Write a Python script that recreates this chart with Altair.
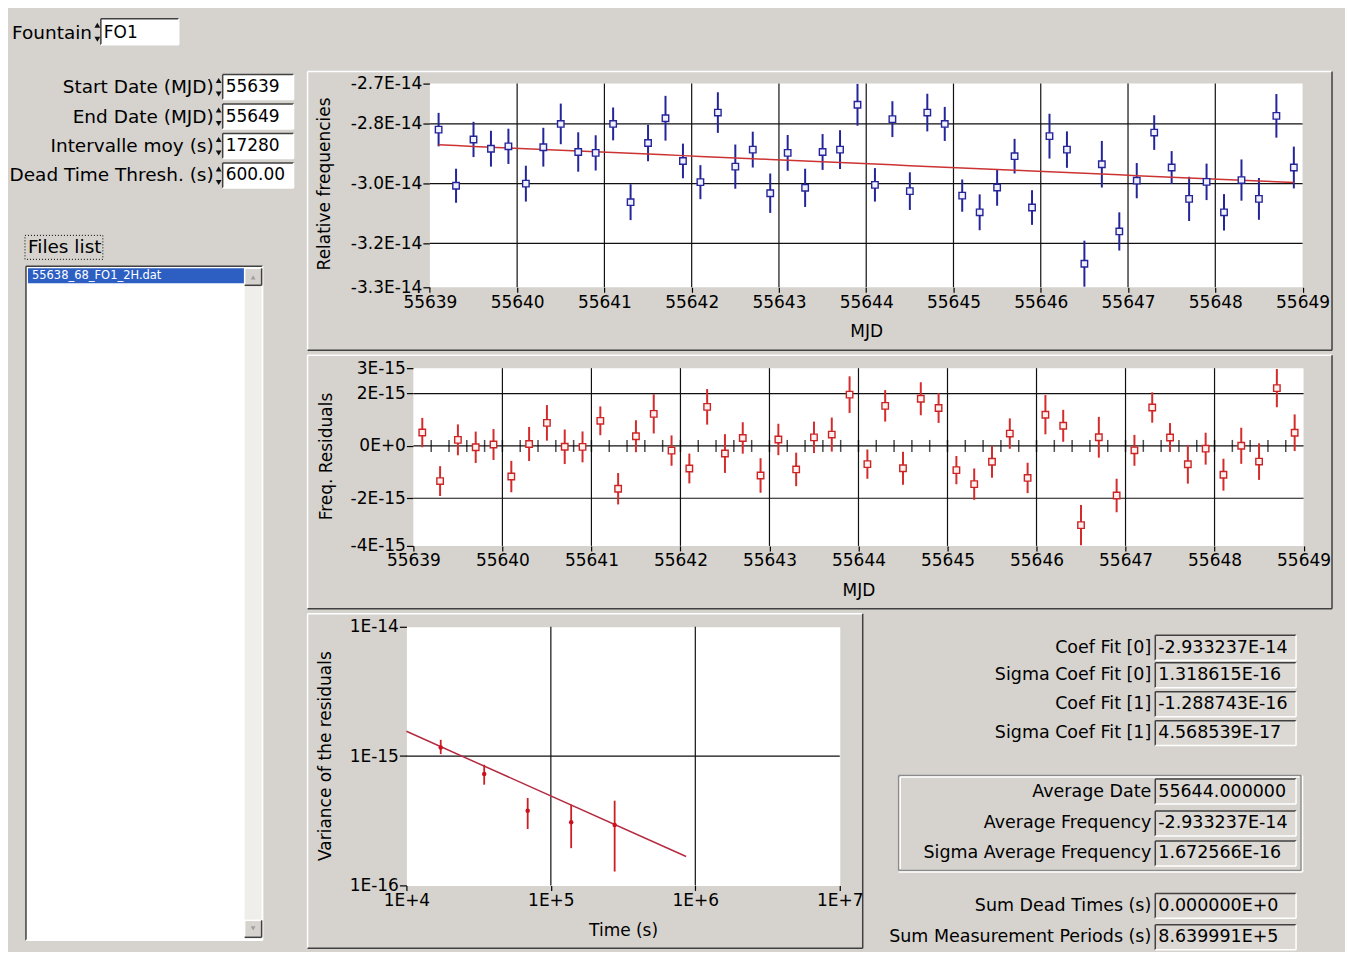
import altair as alt
import pandas as pd

FONT = "DejaVu Sans"
BG = "#d6d3ce"
DARK = "#404040"
LIGHT = "#ffffff"
MID = "#8a8a8a"
NAVY = "#25259a"
RED = "#cc2424"

# ------------------------------------------------------------------ data
MJD = [55639.1, 55639.3, 55639.5, 55639.7, 55639.9,
       55640.1, 55640.3, 55640.5, 55640.7, 55640.9,
       55641.1, 55641.3, 55641.5, 55641.7, 55641.9,
       55642.1, 55642.3, 55642.5, 55642.7, 55642.9,
       55643.1, 55643.3, 55643.5, 55643.7, 55643.9,
       55644.1, 55644.3, 55644.5, 55644.7, 55644.9,
       55645.1, 55645.3, 55645.5, 55645.7, 55645.9,
       55646.1, 55646.3, 55646.5, 55646.7, 55646.9,
       55647.1, 55647.3, 55647.5, 55647.7, 55647.9,
       55648.1, 55648.3, 55648.5, 55648.7, 55648.9]
FREQ_E14 = [-2.819, -3.007, -2.852, -2.883, -2.875, -3.000, -2.878, -2.800, -2.894, -2.897,
            -2.800, -3.062, -2.864, -2.781, -2.924, -2.995, -2.762, -2.943, -2.886, -3.032,
            -2.897, -3.014, -2.894, -2.886, -2.736, -3.004, -2.784, -3.025, -2.762, -2.800,
            -3.040, -3.096, -3.013, -2.908, -3.080, -2.841, -2.886, -3.268, -2.935, -3.160,
            -2.990, -2.829, -2.946, -3.051, -2.994, -3.096, -2.988, -3.051, -2.773, -2.946]
ERR_E14 = [0.056, 0.057, 0.059, 0.060, 0.059, 0.060, 0.065, 0.068, 0.066, 0.059,
           0.055, 0.060, 0.061, 0.075, 0.058, 0.057, 0.068, 0.074, 0.060, 0.066,
           0.060, 0.064, 0.060, 0.065, 0.070, 0.056, 0.060, 0.063, 0.063, 0.057,
           0.054, 0.060, 0.061, 0.058, 0.058, 0.075, 0.061, 0.077, 0.078, 0.064,
           0.059, 0.058, 0.055, 0.074, 0.061, 0.061, 0.069, 0.070, 0.073, 0.070]
COEF_FIT = [-2.933237e-14, -1.288743e-16]
AVG_DATE = 55644.0

TAU_S = [17280, 34560, 69120, 138240, 276480]
ADEV = [1.167e-15, 7.26e-16, 3.78e-16, 3.08e-16, 2.93e-16]
ADEV_LO = [1.036e-15, 6.01e-16, 2.73e-16, 1.94e-16, 1.28e-16]
ADEV_HI = [1.336e-15, 8.57e-16, 4.74e-16, 4.21e-16, 4.52e-16]
FIT_TAU = [1e4, 8.639991e5]
FIT_ADEV = [1.5547e-15, 1.672566e-16]

# axes
MJD_TICKS = [55639, 55640, 55641, 55642, 55643, 55644, 55645, 55646, 55647, 55648, 55649]
MJD_GRID = [55640, 55641, 55642, 55643, 55644, 55645, 55646, 55647, 55648]
FREQ_DOMAIN = [-3.347e-14, -2.665e-14]
FREQ_TICKS = [-3.347e-14, -3.2e-14, -3.0e-14, -2.8e-14, -2.665e-14]
FREQ_GRID = [-3.2e-14, -3.0e-14, -2.8e-14]
RES_DOMAIN = [-3.82e-15, 2.971e-15]
RES_TICKS = [-3.82e-15, -2e-15, 0.0, 2e-15, 2.971e-15]
RES_GRID = [-2e-15, 0.0, 2e-15]
TAU_TICKS = [1e4, 1e5, 1e6, 1e7]
TAU_GRID = [1e5, 1e6]
ADEV_TICKS = [1e-16, 1e-15, 1e-14]
ADEV_GRID = [1e-15]

# interface texts
CTRL_LABELS = ["Start Date (MJD)", "End Date (MJD)", "Intervalle moy (s)", "Dead Time Thresh. (s)"]
CTRL_VALUES = ["55639", "55649", "17280", "600.00"]
FOUNTAIN = "FO1"
FILE_ITEM = "55638_68_FO1_2H.dat"
OUT_LABELS = ["Coef Fit [0]", "Sigma Coef Fit [0]", "Coef Fit [1]", "Sigma Coef Fit [1]",
              "Average Date", "Average Frequency", "Sigma Average Frequency",
              "Sum Dead Times (s)", "Sum Measurement Periods (s)"]
OUT_VALUES = ["-2.933237E-14", "1.318615E-16", "-1.288743E-16", "4.568539E-17",
              "55644.000000", "-2.933237E-14", "1.672566E-16",
              "0.000000E+0", "8.639991E+5"]

# ------------------------------------------------------------------ frames
df = pd.DataFrame({"mjd": MJD,
                   "freq": [v * 1e-14 for v in FREQ_E14],
                   "err": [e * 1e-14 for e in ERR_E14]})
df["fit"] = COEF_FIT[0] + COEF_FIT[1] * (df["mjd"] - AVG_DATE)
df["lo"] = df["freq"] - df["err"]
df["hi"] = df["freq"] + df["err"]
df["res"] = df["freq"] - df["fit"]
df["rlo"] = df["res"] - df["err"]
df["rhi"] = df["res"] + df["err"]

mids = pd.DataFrame({"mjd": [(a + b) / 2 for a, b in zip(MJD[:-1], MJD[1:])],
                     "res": [0.0] * (len(MJD) - 1)})

adev = pd.DataFrame({"tau": TAU_S, "adev": ADEV, "lo": ADEV_LO, "hi": ADEV_HI})
adev_fit = pd.DataFrame({"tau": FIT_TAU, "adev": FIT_ADEV})

D0, D1 = MJD_TICKS[0], MJD_TICKS[-1]


def ax(**kw):
    base = dict(grid=False, domain=False, ticks=True, tickColor="black", tickWidth=1.2,
                labelColor="black", labelFont=FONT, labelFontSize=17, labelPadding=2,
                labelOverlap=False, labelFlush=False,
                titleFont=FONT, titleFontSize=17, titleFontWeight="normal",
                titleColor="black", titleAlign="center", titleBaseline="middle")
    base.update(kw)
    return alt.Axis(**base)


GRID_COLOR = "#111111"
VIEW = alt.ViewBackground(fill="white", stroke="transparent")
NOVIEW = alt.ViewBackground(fill="transparent", stroke="transparent")

# ---------------------------------------------------------- top plot
W1, H1, SH1 = 874, 204, 23.5          # plot width, height, left shift inside the cell
xs1 = alt.Scale(domain=[D0 - SH1 * (D1 - D0) / W1, D1], nice=False, zero=False)
xa1 = ax(values=MJD_TICKS, format="d", tickSize=5, title="MJD", titleX=SH1 + W1 / 2, titleY=44)
ys1 = alt.Scale(domain=FREQ_DOMAIN, nice=False, zero=False)
ya1 = ax(values=FREQ_TICKS, tickSize=7, labelPadding=1, offset=-SH1,
         labelExpr="(datum.value < 0 ? '-' : '') + format(abs(datum.value) * 1e14, '.1f') + 'E-14'",
         title="Relative frequencies", titleX=-106, titleY=100)


def X1(f="mjd"):
    return alt.X(f"{f}:Q", scale=xs1, axis=xa1)


def Y1(f):
    return alt.Y(f"{f}:Q", scale=ys1, axis=ya1)


bg1 = pd.DataFrame({"mjd": [D0], "mjd2": [D1], "freq": [FREQ_DOMAIN[0]], "freq2": [FREQ_DOMAIN[1]]})
hg1 = pd.DataFrame({"mjd": [D0] * len(FREQ_GRID), "mjd2": [D1] * len(FREQ_GRID), "freq": FREQ_GRID})

top_plot = alt.layer(
    alt.Chart(bg1).mark_rect(color="white").encode(x=X1(), x2="mjd2", y=Y1("freq"), y2="freq2"),
    alt.Chart(pd.DataFrame({"mjd": MJD_GRID})).mark_rule(color=GRID_COLOR, strokeWidth=1.2).encode(x=X1()),
    alt.Chart(hg1).mark_rule(color=GRID_COLOR, strokeWidth=1.2).encode(x=X1(), x2="mjd2", y=Y1("freq")),
    alt.Chart(df).mark_rule(color=NAVY, strokeWidth=2).encode(x=X1(), y=Y1("lo"), y2="hi"),
    alt.Chart(df).mark_line(color="#cc3434", strokeWidth=1.5).encode(x=X1(), y=Y1("fit")),
    alt.Chart(df).mark_point(shape="square", size=42, filled=True, fill="#f0f0ff", stroke=NAVY,
                             strokeWidth=1.4, opacity=1).encode(x=X1(), y=Y1("freq")),
).properties(width=W1 + SH1, height=H1, view=NOVIEW)

# ---------------------------------------------------------- residual plot
W2, H2, SH2 = 891.5, 178, 7
xs2 = alt.Scale(domain=[D0 - SH2 * (D1 - D0) / W2, D1], nice=False, zero=False)
xa2 = ax(values=MJD_TICKS, format="d", tickSize=5, title="MJD", titleX=SH2 + W2 / 2, titleY=45)
ys2 = alt.Scale(domain=RES_DOMAIN, nice=False, zero=False)
ya2 = ax(values=RES_TICKS, tickSize=7, labelPadding=1, offset=-SH2,
         labelExpr="datum.value == 0 ? '0E+0' : (datum.value < 0 ? '-' : '') + format(abs(datum.value) * 1e15, '.0f') + 'E-15'",
         title="Freq. Residuals", titleX=-87.5, titleY=88)


def X2(f="mjd"):
    return alt.X(f"{f}:Q", scale=xs2, axis=xa2)


def Y2(f):
    return alt.Y(f"{f}:Q", scale=ys2, axis=ya2)


bg2 = pd.DataFrame({"mjd": [D0], "mjd2": [D1], "res": [RES_DOMAIN[0]], "res2": [RES_DOMAIN[1]]})
hg2 = pd.DataFrame({"mjd": [D0] * len(RES_GRID), "mjd2": [D1] * len(RES_GRID), "res": RES_GRID})

res_plot = alt.layer(
    alt.Chart(bg2).mark_rect(color="white").encode(x=X2(), x2="mjd2", y=Y2("res"), y2="res2"),
    alt.Chart(pd.DataFrame({"mjd": MJD_GRID})).mark_rule(color=GRID_COLOR, strokeWidth=1.2).encode(x=X2()),
    alt.Chart(hg2).mark_rule(color=GRID_COLOR, strokeWidth=1.2).encode(x=X2(), x2="mjd2", y=Y2("res")),
    alt.Chart(mids).mark_tick(orient="vertical", size=12, thickness=1.5, color="black").encode(x=X2(), y=Y2("res")),
    alt.Chart(df).mark_rule(color="#d42c2c", strokeWidth=2).encode(x=X2(), y=Y2("rlo"), y2="rhi"),
    alt.Chart(df).mark_point(shape="square", size=42, filled=True, fill="#fff0f0", stroke=RED,
                             strokeWidth=1.4, opacity=1).encode(x=X2(), y=Y2("res")),
).properties(width=W2 + SH2, height=H2, view=NOVIEW)

# ---------------------------------------------------------- variance plot
W3, H3 = 434, 259
xs3 = alt.Scale(type="log", domain=[1e4, 1e7], nice=False)
xa3 = ax(values=TAU_TICKS, tickSize=5, title="Time (s)", titleX=W3 / 2, titleY=45,
         labelExpr="'1E' + (round(log(datum.value) / LN10) >= 0 ? '+' : '-') + abs(round(log(datum.value) / LN10))")
ys3 = alt.Scale(type="log", domain=[1e-16, 1e-14], nice=False)
ya3 = ax(values=ADEV_TICKS, tickSize=7, labelPadding=1,
         labelExpr="'1E' + (round(log(datum.value) / LN10) >= 0 ? '+' : '-') + abs(round(log(datum.value) / LN10))",
         title="Variance of the residuals", titleX=-81.5, titleY=129)


def X3(f="tau"):
    return alt.X(f"{f}:Q", scale=xs3, axis=xa3)


def Y3(f):
    return alt.Y(f"{f}:Q", scale=ys3, axis=ya3)


var_plot = alt.layer(
    alt.Chart(pd.DataFrame({"tau": TAU_GRID})).mark_rule(color=GRID_COLOR, strokeWidth=1.2).encode(x=X3()),
    alt.Chart(pd.DataFrame({"adev": ADEV_GRID})).mark_rule(color=GRID_COLOR, strokeWidth=1.2).encode(y=Y3("adev")),
    alt.Chart(adev_fit).mark_line(color="#b42a40", strokeWidth=1.5).encode(x=X3(), y=Y3("adev")),
    alt.Chart(adev).mark_rule(color="#cc1f24", strokeWidth=1.8).encode(x=X3(), y=Y3("lo"), y2="hi"),
    alt.Chart(adev).mark_circle(size=20, color="#cc1020", opacity=1).encode(x=X3(), y=Y3("adev")),
).properties(width=W3, height=H3, view=VIEW)

# ---------------------------------------------------------- interface panel
OX, OY = 8, 82          # page position of the panel origin
rects, lines, dashed, txt_r, txt_l, tri = [], [], [], [], [], []


def rect(x0, y0, x1, y1, fill):
    rects.append(dict(x=x0 - OX, y=y0 - OY, x2=x1 - OX, y2=y1 - OY, fill=fill))


def line(x0, y0, x1, y1, c):
    lines.append(dict(x=x0 - OX, y=y0 - OY, x2=x1 - OX, y2=y1 - OY, c=c))


def bevel(x0, y0, x1, y1, sunken=True):
    a, b = (DARK, LIGHT) if sunken else (LIGHT, DARK)
    line(x0, y0, x1, y0, a)
    line(x0, y0, x0, y1, a)
    line(x0, y1, x1, y1, b)
    line(x1, y0, x1, y1, b)


def text(lst, s, x, y, size, color="black"):
    lst.append(dict(x=x - OX, y=y - OY, text=s, size=size, color=color))


def arrow(x, y, shape, color="#101010", size=34):
    tri.append(dict(x=x - OX, y=y - OY, shape=shape, color=color, size=size))


# background (defines the canvas extent)
rect(8, 8, 1345, 948, BG)

# plot frames
bevel(307, 70, 1333, 349, sunken=False)
bevel(307, 354, 1333, 608, sunken=False)
bevel(307, 613, 863, 948, sunken=False)

# fountain
text(txt_l, "Fountain", 11, 31, 18.5)
arrow(96.5, 23.5, "triangle-up")
arrow(96.5, 37.5, "triangle-down")
rect(100, 17, 178, 43, "white")
bevel(100, 17, 178, 43)
text(txt_l, FOUNTAIN, 103, 31, 17)

# numeric controls
for i, (lab, val) in enumerate(zip(CTRL_LABELS, CTRL_VALUES)):
    cy = 85.5 + 29.5 * i
    text(txt_r, lab, 213, cy, 18.5)
    arrow(218, cy - 6.5, "triangle-up")
    arrow(218, cy + 7, "triangle-down")
    rect(222, cy - 12.5, 293, cy + 12.5, "white")
    bevel(222, cy - 12.5, 293, cy + 12.5)
    text(txt_l, val, 225, cy, 17)

# files list
text(txt_l, "Files list", 27, 246, 18.5)
dashed.append(dict(x=24 - OX, y=234 - OY, x2=102 - OX, y2=258 - OY))
rect(25, 265, 262, 940, "white")
bevel(25, 265, 262, 940)
rect(27, 267, 244, 282, "#2d5fc2")
text(txt_l, FILE_ITEM, 31, 275, 11.5, "white")
rect(244, 267, 261, 938, "#efeeea")
rect(244, 267, 261, 284, BG)
bevel(244, 267, 261, 284, sunken=False)
arrow(252.5, 276, "triangle-up", "#a0a0a0", 24)
rect(244, 920, 261, 937, BG)
bevel(244, 920, 261, 937, sunken=False)
arrow(252.5, 928, "triangle-down", "#a0a0a0", 24)

# output indicators
OUT_Y = [647, 674.5, 703.5, 732.5, 791, 823, 853, 905.5, 937]
line(899, 775, 1302, 775, MID)
line(899, 775, 899, 870, MID)
line(899, 870, 1302, 870, MID)
line(1302, 775, 1302, 870, MID)
line(900.5, 776.5, 1300.5, 776.5, LIGHT)
line(900.5, 776.5, 900.5, 868.5, LIGHT)
line(899, 871.5, 1303.5, 871.5, LIGHT)
line(1303.5, 775, 1303.5, 871.5, LIGHT)
for lab, val, cy in zip(OUT_LABELS, OUT_VALUES, OUT_Y):
    text(txt_r, lab, 1152, cy, 17.5)
    rect(1156, cy - 12.5, 1297, cy + 12.5, "#dcd9d4")
    bevel(1156, cy - 12.5, 1297, cy + 12.5)
    text(txt_l, val, 1159, cy, 17.5)


def IX(f="x"):
    return alt.X(f"{f}:Q", scale=None)


def IY(f="y"):
    return alt.Y(f"{f}:Q", scale=None)


PANEL_W = 397.5   # page x of the plots' column = 8 + PANEL_W

panel = alt.layer(
    alt.Chart(pd.DataFrame(rects)).mark_rect().encode(
        x=IX(), y=IY(), x2="x2:Q", y2="y2:Q", fill=alt.Color("fill:N", scale=None)),
    alt.Chart(pd.DataFrame(lines)).mark_rule(strokeWidth=1.5).encode(
        x=IX(), y=IY(), x2="x2:Q", y2="y2:Q", color=alt.Color("c:N", scale=None)),
    alt.Chart(pd.DataFrame(dashed)).mark_rect(fillOpacity=0, stroke="black", strokeWidth=1,
                                               strokeDash=[1, 2]).encode(
        x=IX(), y=IY(), x2="x2:Q", y2="y2:Q"),
    alt.Chart(pd.DataFrame(tri)).mark_point(filled=True, opacity=1).encode(
        x=IX(), y=IY(), shape=alt.Shape("shape:N", scale=None),
        color=alt.Color("color:N", scale=None), size=alt.Size("size:Q", scale=None)),
    alt.Chart(pd.DataFrame(txt_r)).mark_text(align="right", baseline="middle", font=FONT).encode(
        x=IX(), y=IY(), text="text:N", size=alt.Size("size:Q", scale=None),
        color=alt.Color("color:N", scale=None)),
    alt.Chart(pd.DataFrame(txt_l)).mark_text(align="left", baseline="middle", font=FONT).encode(
        x=IX(), y=IY(), text="text:N", size=alt.Size("size:Q", scale=None),
        color=alt.Color("color:N", scale=None)),
).properties(width=PANEL_W, height=10)

# ---------------------------------------------------------- layout
dummy = pd.DataFrame({"k": [0]})


def spacer(w, h):
    return alt.Chart(dummy).mark_rect(opacity=0).encode(
        x=alt.value(0), x2=alt.value(1), y=alt.value(0), y2=alt.value(1)
    ).properties(width=w, height=h)


chart = alt.concat(
    panel, top_plot,
    spacer(PANEL_W, 10), res_plot,
    spacer(PANEL_W, 10), var_plot,
    columns=2, bounds="flush",
    spacing=alt.RowColnumber(row=81, column=0),
).properties(padding=0).configure(background=BG).configure_view(stroke="transparent")

chart.save("out.html", embed_options={"renderer": "svg", "actions": False})
